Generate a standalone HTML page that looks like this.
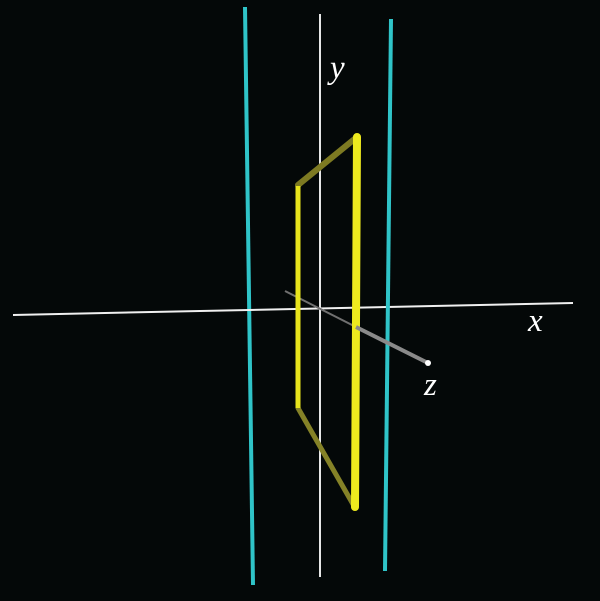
<!DOCTYPE html>
<html><head><meta charset="utf-8"><style>
html,body{margin:0;padding:0;background:#040808;}
svg{display:block;}
text{font-family:"Liberation Serif",serif;font-style:italic;fill:#fff;font-size:33px;}
</style></head><body>
<svg width="600" height="601" viewBox="0 0 600 601">
<rect width="600" height="601" fill="#040808"/>
<line x1="245" y1="7" x2="253" y2="585" stroke="#2fc4c8" stroke-width="4"/>
<line x1="320" y1="14" x2="320" y2="577" stroke="#e6e6e6" stroke-width="2"/>
<line x1="13" y1="315" x2="573" y2="303" stroke="#f0f0f0" stroke-width="2"/>
<line x1="285" y1="291" x2="356" y2="327" stroke="#707070" stroke-width="2"/>
<g>
<line x1="298" y1="185" x2="357" y2="137" stroke="#7d7a22" stroke-width="6" stroke-linecap="round"/>
<line x1="298" y1="408" x2="354" y2="506" stroke="#858227" stroke-width="5" stroke-linecap="round"/>
<line x1="298" y1="186" x2="298" y2="408" stroke="#e8e41c" stroke-width="5"/>
<line x1="357" y1="137" x2="355" y2="507" stroke="#eeea1e" stroke-width="8" stroke-linecap="round"/>
</g>
<line x1="391" y1="19" x2="385" y2="571" stroke="#2fc4c8" stroke-width="4"/>
<line x1="356" y1="327" x2="428" y2="363" stroke="#8a8a8a" stroke-width="4"/>
<circle cx="428" cy="363" r="3" fill="#fff"/>
<text x="330" y="78">y</text>
<text x="528" y="331">x</text>
<text x="424" y="395">z</text>
</svg>
</body></html>
